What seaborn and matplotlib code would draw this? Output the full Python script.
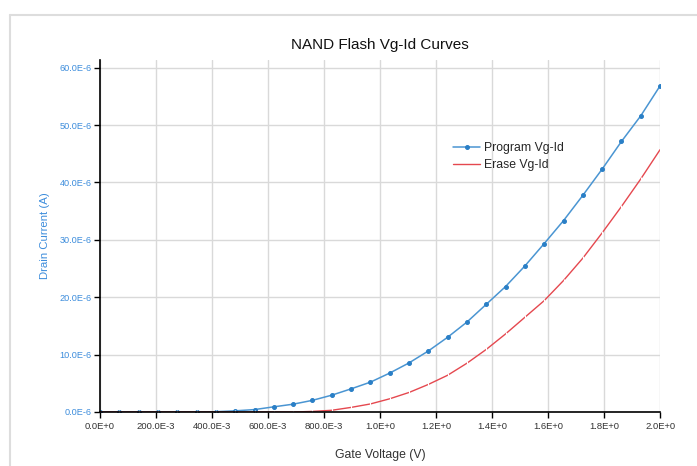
import numpy as np
import pandas as pd
import matplotlib
matplotlib.use("Agg")
import matplotlib.pyplot as plt
from matplotlib.lines import Line2D
import seaborn as sns

# ----------------------------------------------
# DATA  (current in uA)
# ----------------------------------------------
N_POINTS = 30
gate_voltage = np.linspace(0.0, 2.0, N_POINTS)

program_id_uA = [0.0, 0.0, 0.0, 0.0, 0.0, 0.0, 0.05, 0.2, 0.42, 0.9,
                 1.36, 2.03, 2.93, 4.03, 5.2, 6.78, 8.55, 10.63, 13.02, 15.67,
                 18.76, 21.86, 25.44, 29.34, 33.34, 37.74, 42.31, 47.13, 51.6, 56.82]

erase_id_uA = [0.0, 0.0, 0.0, 0.0, 0.0, 0.0, 0.0, 0.0, 0.0, 0.0,
               0.0, 0.1, 0.3, 0.8, 1.4, 2.3, 3.4, 4.8, 6.4, 8.5,
               10.9, 13.6, 16.5, 19.4, 22.9, 26.8, 31.2, 35.8, 40.6, 45.7]

series_names = ["Program Vg-Id", "Erase Vg-Id"]

x_ticks = [0.0, 0.2, 0.4, 0.6, 0.8, 1.0, 1.2, 1.4, 1.6, 1.8, 2.0]
x_tick_labels = ["0.0E+0", "200.0E-3", "400.0E-3", "600.0E-3", "800.0E-3",
                 "1.0E+0", "1.2E+0", "1.4E+0", "1.6E+0", "1.8E+0", "2.0E+0"]
y_ticks = [0, 10, 20, 30, 40, 50, 60]
y_tick_labels = ["0.0E-6", "10.0E-6", "20.0E-6", "30.0E-6",
                 "40.0E-6", "50.0E-6", "60.0E-6"]

# ----------------------------------------------
# STYLE
# ----------------------------------------------
BLUE = "#2a7fc6"
BLUE_LINE = "#4a95d2"
RED = "#e5484f"
TICK_BLUE = "#3d8ddc"
TEXT_GRAY = "#333333"

sns.set_style("whitegrid", {"grid.color": "#d9d9d9", "axes.edgecolor": "black"})
plt.rcParams["font.family"] = ["Liberation Sans", "DejaVu Sans"]

df = pd.DataFrame({
    "Vg": np.concatenate([gate_voltage, gate_voltage]),
    "Id": np.concatenate([program_id_uA, erase_id_uA]),
    "series": np.repeat(series_names, N_POINTS),
})

fig = plt.figure(figsize=(6.97, 4.66), dpi=100)
ax = fig.add_axes([0.1435, 0.1159, 0.8035, 0.755])

sns.lineplot(data=df[df.series == series_names[0]], x="Vg", y="Id", ax=ax,
             color=BLUE_LINE, linewidth=1.1, marker="o", markersize=2.8,
             markerfacecolor=BLUE, markeredgecolor=BLUE, label=series_names[0])
sns.lineplot(data=df[df.series == series_names[1]], x="Vg", y="Id", ax=ax,
             color=RED, linewidth=1.0, marker="|", markersize=3,
             markeredgewidth=0.8, label=series_names[1])

ax.set_xlim(0, 2.0)
ax.set_ylim(0, 61.3)
ax.set_xticks(x_ticks)
ax.set_xticklabels(x_tick_labels)
ax.set_yticks(y_ticks)
ax.set_yticklabels(y_tick_labels)
ax.tick_params(axis="x", labelsize=6.8, labelcolor=TEXT_GRAY, length=4,
               width=1, color="black", direction="out", bottom=True, pad=3)
ax.tick_params(axis="y", labelsize=6.6, labelcolor=TICK_BLUE, length=4,
               width=1, color="black", direction="out", left=True, pad=2)

for side in ["top", "right"]:
    ax.spines[side].set_visible(False)
for side in ["left", "bottom"]:
    ax.spines[side].set_linewidth(1.2)
    ax.spines[side].set_color("black")
ax.grid(True, color="#d9d9d9", linewidth=1)

ax.set_xlabel("Gate Voltage (V)", fontsize=8.8, color=TEXT_GRAY, labelpad=13)
ax.set_ylabel("Drain Current (A)", fontsize=8.2, color=TICK_BLUE, labelpad=7)
ax.set_title("NAND Flash Vg-Id Curves", fontsize=11, color="#111111", pad=8)

leg = ax.legend(loc="upper left", bbox_to_anchor=(0.62, 0.785), frameon=False,
                fontsize=8.8, handlelength=2.2, handletextpad=0.3,
                labelspacing=0.45, borderpad=0)
for handle in leg.legend_handles[1:]:
    handle.set_marker("")

# screenshot frame
fig.add_artist(Line2D([10 / 697, 1.0], [1 - 15 / 466, 1 - 15 / 466],
                      color="#dddddd", linewidth=1.5, transform=fig.transFigure))
fig.add_artist(Line2D([10 / 697, 10 / 697], [0.0, 1 - 15 / 466],
                      color="#dddddd", linewidth=1.5, transform=fig.transFigure))

fig.savefig("out.png", dpi=100)
plt.close(fig)
